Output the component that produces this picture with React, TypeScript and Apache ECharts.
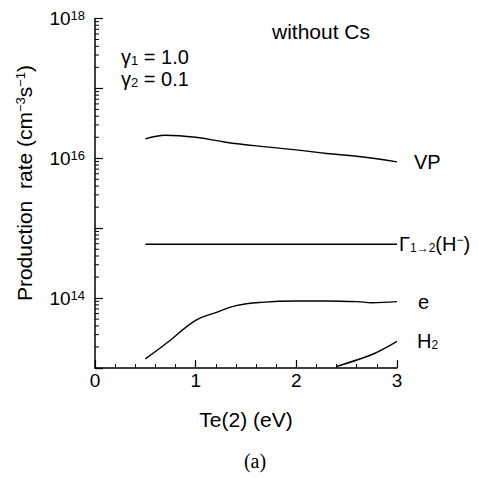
import React, { useEffect, useRef } from 'react';
import * as echarts from 'echarts';

// ---- data ----
const vpX = [0.5, 0.7, 1.0, 1.3, 1.65, 2.0, 2.3, 2.6, 3.0];
const vpY = [1.9e16, 2.14e16, 2.0e16, 1.7e16, 1.48e16, 1.32e16, 1.17e16, 1.07e16, 8.9e15];

const gammaX = [0.5, 1.0, 1.5, 2.0, 2.5, 3.0];
const gammaY = [5.9e14, 5.9e14, 5.9e14, 5.9e14, 5.9e14, 5.9e14];

const eX = [0.5, 0.7, 1.0, 1.2, 1.4, 1.65, 2.0, 2.3, 2.6, 2.75, 3.0];
const eY = [1.35e13, 2.2e13, 4.8e13, 6.2e13, 7.8e13, 8.7e13, 9.1e13, 9.1e13, 8.9e13, 8.6e13, 8.9e13];

const h2X = [2.4, 2.77, 3.0];
const h2Y = [1.05e13, 1.6e13, 2.4e13];

const xTickLabels = ['0', '1', '2', '3'];
const yLabelExponents = [14, 16, 18];
const yDecades = [13, 14, 15, 16, 17];
const yMinorMultipliers = [2, 3, 4, 5, 6, 7, 8, 9];

const FONT = '"Liberation Sans", Arial, Helvetica, sans-serif';
const SERIF = '"Liberation Serif", "Times New Roman", serif';

export default function App() {
  const ref = useRef<HTMLDivElement>(null);

  useEffect(() => {
    const chart = echarts.init(ref.current!, null, { renderer: 'svg' });
    const pair = (xs: number[], ys: number[]) => xs.map((x, i) => [x, ys[i]]);

    const minorTicks: number[][] = [];
    yDecades.forEach((d) =>
      yMinorMultipliers.forEach((m) => minorTicks.push([0, m * Math.pow(10, d)]))
    );

    const lineBase = {
      type: 'line',
      symbol: 'none',
      showSymbol: false,
      smooth: 0.4,
      clip: true,
      lineStyle: { color: '#000', width: 1.4 },
      itemStyle: { color: '#000' },
    };

    const labelRich = {
      b: { fontSize: 20, lineHeight: 20, fontFamily: FONT, color: '#000', verticalAlign: 'top' },
      sub: { fontSize: 12, lineHeight: 12, padding: [9, 0, 0, 0], fontFamily: FONT, color: '#000', verticalAlign: 'bottom' },
      sup: { fontSize: 12, lineHeight: 12, padding: [0, 0, 10, 0], fontFamily: FONT, color: '#000', verticalAlign: 'top' },
    };

    chart.setOption({
      animation: false,
      backgroundColor: '#fff',
      grid: { left: 95, right: 81, top: 18.5, bottom: 110, outerBoundsMode: 'none' },
      xAxis: {
        type: 'value',
        min: 0,
        max: 3,
        interval: 1,
        name: 'Te(2) (eV)',
        nameLocation: 'middle',
        nameGap: 41,
        nameTextStyle: { fontSize: 21, fontFamily: FONT, color: '#000' },
        axisLine: { show: true, lineStyle: { color: '#000', width: 1.5 } },
        axisTick: { show: true, inside: true, length: 8, lineStyle: { color: '#000', width: 1.2 } },
        minorTick: { show: true, splitNumber: 5, length: 4, lineStyle: { color: '#000', width: 1 } },
        splitLine: { show: false },
        minorSplitLine: { show: false },
        axisLabel: {
          fontSize: 19,
          fontFamily: FONT,
          color: '#000',
          margin: 3,
          formatter: (v: number) => xTickLabels[Math.round(v)] ?? '',
        },
      },
      yAxis: {
        type: 'log',
        logBase: 10,
        min: 1e13,
        max: 1e18,
        splitNumber: 5,
        axisLine: { show: true, lineStyle: { color: '#000', width: 1.5 } },
        axisTick: { show: true, inside: true, length: 8, lineStyle: { color: '#000', width: 1.2 } },
        splitLine: { show: false },
        axisLabel: {
          margin: 10,
          formatter: (v: number) => {
            const e = Math.round(Math.log10(v));
            return yLabelExponents.includes(e) ? `{b|10}{s|${e}}` : '';
          },
          rich: {
            b: { fontSize: 19, lineHeight: 19, fontFamily: FONT, color: '#000', verticalAlign: 'bottom' },
            s: { fontSize: 13, lineHeight: 13, padding: [0, 0, 13, 0], fontFamily: FONT, color: '#000', verticalAlign: 'top' },
          },
        },
      },
      graphic: [
        {
          type: 'text',
          x: 24,
          y: 183,
          rotation: Math.PI / 2,
          style: {
            text: '{a|Production  rate (cm}{s|−3}{a|s}{s|−1}{a|)}',
            align: 'center',
            verticalAlign: 'middle',
            rich: {
              a: { fontSize: 21, lineHeight: 21, fontFamily: FONT, fill: '#000', verticalAlign: 'bottom' },
              s: { fontSize: 13, lineHeight: 13, padding: [0, 0, 12, 0], fontFamily: FONT, fill: '#000', verticalAlign: 'top' },
            },
          },
        },
        {
          type: 'text',
          x: 272,
          y: 31,
          style: { text: 'without Cs', fontSize: 21, fontFamily: FONT, fill: '#000', align: 'left', verticalAlign: 'middle' },
        },
        {
          type: 'text',
          x: 121,
          y: 57,
          style: {
            text: '{g|γ}{sub|1}{g| = 1.0}',
            align: 'left',
            verticalAlign: 'middle',
            rich: {
              g: { fontSize: 20, lineHeight: 20, fontFamily: FONT, fill: '#000', verticalAlign: 'top' },
              sub: { fontSize: 13, lineHeight: 13, padding: [8, 0, 0, 0], fontFamily: FONT, fill: '#000', verticalAlign: 'bottom' },
            },
          },
        },
        {
          type: 'text',
          x: 121,
          y: 79,
          style: {
            text: '{g|γ}{sub|2}{g| = 0.1}',
            align: 'left',
            verticalAlign: 'middle',
            rich: {
              g: { fontSize: 20, lineHeight: 20, fontFamily: FONT, fill: '#000', verticalAlign: 'top' },
              sub: { fontSize: 13, lineHeight: 13, padding: [8, 0, 0, 0], fontFamily: FONT, fill: '#000', verticalAlign: 'bottom' },
            },
          },
        },
        {
          type: 'text',
          x: 255,
          y: 461,
          style: { text: '(a)', fontSize: 20, fontFamily: SERIF, fill: '#000', align: 'center', verticalAlign: 'middle' },
        },
      ],
      series: [
        {
          ...lineBase,
          name: 'VP',
          data: pair(vpX, vpY),
          endLabel: { show: true, formatter: 'VP', distance: 17, fontSize: 20, fontFamily: FONT, color: '#000' },
        },
        {
          ...lineBase,
          name: 'Gamma',
          smooth: false,
          data: pair(gammaX, gammaY),
          endLabel: { show: true, formatter: '{b|Γ}{sub|1→2}{b|(H}{sup|−}{b|)}', distance: 2, rich: labelRich },
        },
        {
          ...lineBase,
          name: 'e',
          data: pair(eX, eY),
          endLabel: { show: true, formatter: 'e', distance: 21, fontSize: 20, fontFamily: FONT, color: '#000' },
        },
        {
          ...lineBase,
          name: 'H2',
          smooth: 0.3,
          data: pair(h2X, h2Y),
          endLabel: { show: true, formatter: '{b|H}{sub|2}', distance: 20, rich: labelRich },
        },
        {
          type: 'custom',
          name: 'yMinorTicks',
          coordinateSystem: 'cartesian2d',
          silent: true,
          clip: false,
          data: minorTicks,
          renderItem: (params: any, api: any) => {
            const p = api.coord([api.value(0), api.value(1)]);
            return {
              type: 'line',
              shape: { x1: p[0], y1: p[1], x2: p[0] + 4, y2: p[1] },
              style: { stroke: '#000', lineWidth: 1 },
            };
          },
        },
      ],
    });

    return () => chart.dispose();
  }, []);

  return (
    <div
      ref={ref}
      style={{ position: 'fixed', left: 0, top: 0, width: 478, height: 478, background: '#fff' }}
    />
  );
}
